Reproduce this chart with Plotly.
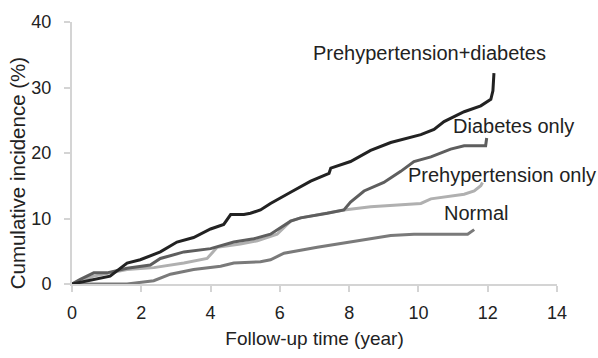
import plotly.graph_objects as go

# Prehypertension+diabetes
phd_t = [0, 0.63, 1.1, 1.59, 1.97, 2.55, 3.03, 3.51, 4.0, 4.38, 4.58, 4.96, 5.15, 5.44, 5.73, 6.31, 6.89, 7.42, 7.47, 8.04, 8.62, 9.2, 9.68, 10.07, 10.45, 10.74, 11.32, 11.8, 12.09, 12.15, 12.18]
phd_y = [0, 0.7, 1.2, 3.2, 3.7, 4.9, 6.4, 7.1, 8.4, 9.1, 10.6, 10.6, 10.8, 11.3, 12.3, 14.0, 15.7, 16.9, 17.7, 18.7, 20.4, 21.6, 22.3, 22.8, 23.6, 24.8, 26.3, 27.2, 28.2, 29.5, 32.2]

# Diabetes only
dm_t = [0, 0.24, 0.63, 1.01, 1.59, 2.26, 2.55, 3.23, 4.0, 4.67, 5.25, 5.73, 6.31, 6.6, 7.37, 7.85, 8.04, 8.43, 9.0, 9.49, 9.87, 10.36, 10.93, 11.32, 11.94, 11.97]
dm_y = [0, 0.7, 1.7, 1.7, 2.4, 2.9, 3.9, 4.9, 5.4, 6.4, 6.9, 7.6, 9.6, 10.1, 10.8, 11.3, 12.5, 14.2, 15.5, 17.2, 18.7, 19.4, 20.6, 21.1, 21.1, 22.3]

# Prehypertension only
ph_t = [0, 0.63, 1.59, 2.36, 3.23, 3.9, 4.19, 4.86, 5.35, 5.92, 6.31, 6.6, 7.85, 8.62, 10.07, 10.36, 11.32, 11.61, 11.8, 11.85]
ph_y = [0, 1.2, 2.2, 2.5, 3.2, 3.9, 5.6, 6.1, 6.6, 7.6, 9.6, 10.1, 11.3, 11.8, 12.3, 13.0, 13.7, 14.2, 15.0, 15.5]

# Normal
nm_t = [0, 1.59, 2.36, 2.84, 3.51, 4.29, 4.67, 5.44, 5.73, 6.12, 7.08, 8.24, 9.2, 9.87, 11.42, 11.61]
nm_y = [0, 0, 0.5, 1.5, 2.2, 2.7, 3.2, 3.4, 3.7, 4.7, 5.6, 6.6, 7.4, 7.6, 7.6, 8.3]

series = [
    ("Normal", nm_t, nm_y, "#7a7a7a"),
    ("Prehypertension only", ph_t, ph_y, "#b0b0b0"),
    ("Diabetes only", dm_t, dm_y, "#5e5e5e"),
    ("Prehypertension+diabetes", phd_t, phd_y, "#222222"),
]

labels = ["Prehypertension+diabetes", "Diabetes only", "Prehypertension only", "Normal"]
label_x = [10.33, 12.75, 12.42, 11.67]
label_y = [35.3, 24.1, 16.7, 10.8]

fig = go.Figure()
for name, t, y, c in series:
    fig.add_trace(go.Scatter(x=t, y=y, mode="lines", name=name,
                             line=dict(color=c, width=3, shape="linear")))

for txt, lx, ly in zip(labels, label_x, label_y):
    fig.add_annotation(x=lx, y=ly, text=txt, showarrow=False,
                       font=dict(size=20, color="#222"), xanchor="center", yanchor="middle")

# y-axis title (drawn as rotated text, sitting slightly below axis centre as in the original)
fig.add_annotation(xref="paper", x=0, xshift=-55, y=16.9, yref="y",
                   text="Cumulative incidence (%)", textangle=-90, showarrow=False,
                   font=dict(size=20.5, color="#222"), xanchor="center", yanchor="middle")

axis_common = dict(showgrid=False, zeroline=False, showline=True, linecolor="#d4d4d4", linewidth=2,
                   ticks="outside", tickcolor="#d4d4d4", ticklen=6, tickwidth=2,
                   tickfont=dict(size=18, color="#222"))

fig.update_layout(
    width=598, height=358,
    margin=dict(l=72, r=41, t=13, b=73),
    plot_bgcolor="white", paper_bgcolor="white",
    showlegend=False,
    font=dict(family="Liberation Sans, Arial, sans-serif", color="#222"),
    xaxis=dict(range=[0, 14], tickvals=[0, 2, 4, 6, 8, 10, 12, 14], ticklabelstandoff=5,
               title=dict(text="Follow-up time (year)", font=dict(size=19), standoff=10), **axis_common),
    yaxis=dict(range=[0, 40], tickvals=[0, 10, 20, 30, 40], ticklabelstandoff=9, **axis_common),
)

fig.write_html("out.html")
